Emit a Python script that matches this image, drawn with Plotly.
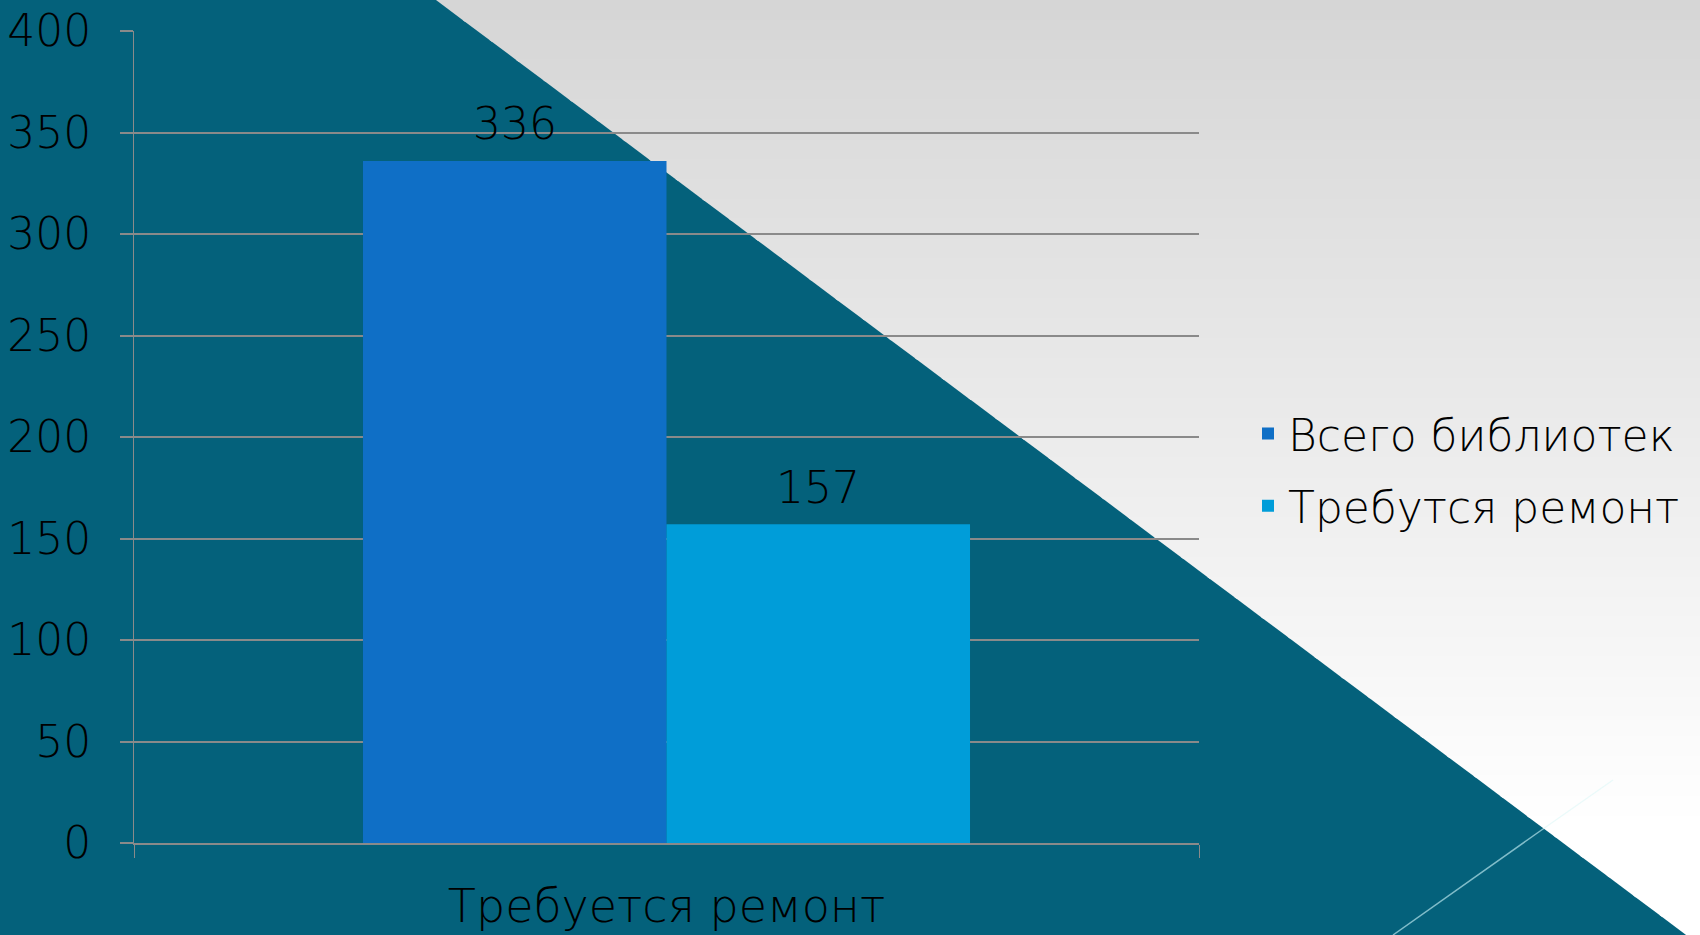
import plotly.graph_objects as go

# ---- data ----
categories = ["Требуется ремонт"]
series_names = ["Всего библиотек", "Требутся ремонт"]
total_libraries = [336]
need_repair = [157]
series_colors = ["#0F6FC6", "#009DD9"]
y_ticks = [0, 50, 100, 150, 200, 250, 300, 350, 400]

W, H = 1700, 935
L, R, T, B = 134, 501, 31, 92
PW, PH = W - L - R, H - T - B

FONT = "DejaVu Sans"
TEAL = "#04617B"
GRID = "#8a8a8a"
BARGAP = 0.43


def px(x):
    return (x - L) / PW


def py(y):
    return (H - B - y) / PH


fig = go.Figure()
all_series = [total_libraries, need_repair]
annotations = []
n = len(all_series)
for i, (name, vals, col) in enumerate(zip(series_names, all_series, series_colors)):
    fig.add_trace(go.Bar(
        x=categories, y=vals, name=name, legendgroup=name,
        marker=dict(color=col, line=dict(width=0)),
    ))
    off = (i - (n - 1) / 2) * (1 - BARGAP) / n
    for ci, v in enumerate(vals):
        annotations.append(dict(
            x=ci + off, y=v, xref="x", yref="y", text=str(v), showarrow=False,
            yanchor="middle", yshift=37,
            font=dict(family=FONT, size=44, color="#000000", weight=200),
        ))

# background: grey gradient region above the diagonal (decoration)
shapes = []
x_top, slope = 436.0, 1.337


def xd(y):
    return x_top + slope * y


nb = 47
for i in range(nb):
    y0 = H * i / nb - (2 if i == 0 else 0)
    y1 = H * (i + 1) / nb + 2.0
    t = min(1.0, (y0 + y1) / 2 / 820)
    c = int(round(213 + (255 - 213) * t))
    path = "M{:.5f},{:.5f} L{:.5f},{:.5f} L{:.5f},{:.5f} L{:.5f},{:.5f} Z".format(
        px(xd(y0)), py(y0), px(W + 5), py(y0), px(W + 5), py(y1), px(xd(y1)), py(y1))
    shapes.append(dict(type="path", xref="paper", yref="paper", path=path,
                       fillcolor=f"rgb({c},{c},{c})", line=dict(width=0), layer="below"))

shapes.append(dict(type="line", xref="paper", yref="paper",
                   x0=px(1393), y0=py(H), x1=px(1543), y1=py(829),
                   line=dict(color="rgba(150,205,215,0.85)", width=1.5), layer="below"))
shapes.append(dict(type="line", xref="paper", yref="paper",
                   x0=px(1543), y0=py(829), x1=px(1613), y1=py(780),
                   line=dict(color="rgba(225,248,248,0.7)", width=1.2), layer="below"))

fig.update_layout(
    width=W, height=H,
    margin=dict(l=L, r=R, t=T, b=B, pad=0, autoexpand=False),
    paper_bgcolor=TEAL,
    plot_bgcolor="rgba(0,0,0,0)",
    barmode="group", bargap=BARGAP, bargroupgap=0,
    shapes=shapes,
    annotations=annotations,
    font=dict(family=FONT, color="#000000", weight=200),
    showlegend=True,
    legend=dict(x=px(1248), y=py(470), xanchor="left", yanchor="middle",
                bgcolor="rgba(0,0,0,0)", font=dict(family=FONT, size=44, color="#000000", weight=200),
                itemwidth=30, traceorder="grouped", tracegroupgap=12),
    xaxis=dict(showgrid=False, showline=True, linecolor=GRID, linewidth=1.5, automargin=False,
               ticks="outside", tickson="boundaries", ticklen=13, tickcolor=GRID, tickwidth=1,
               tickfont=dict(family=FONT, size=46, color="#000000", weight=200),
               ticklabelstandoff=22),
    yaxis=dict(range=[0, 400], tickvals=y_ticks, showgrid=True, gridcolor=GRID, gridwidth=1.5,
               showline=True, linecolor=GRID, linewidth=1, zeroline=False, automargin=False,
               ticks="outside", ticklen=13, tickcolor=GRID, tickwidth=1.5,
               tickfont=dict(family=FONT, size=44, color="#000000", weight=200),
               ticklabelstandoff=20),
)

fig.write_html("out.html", config={"displayModeBar": False},
               post_script="document.body.style.margin='0';document.body.style.overflow='hidden';")
